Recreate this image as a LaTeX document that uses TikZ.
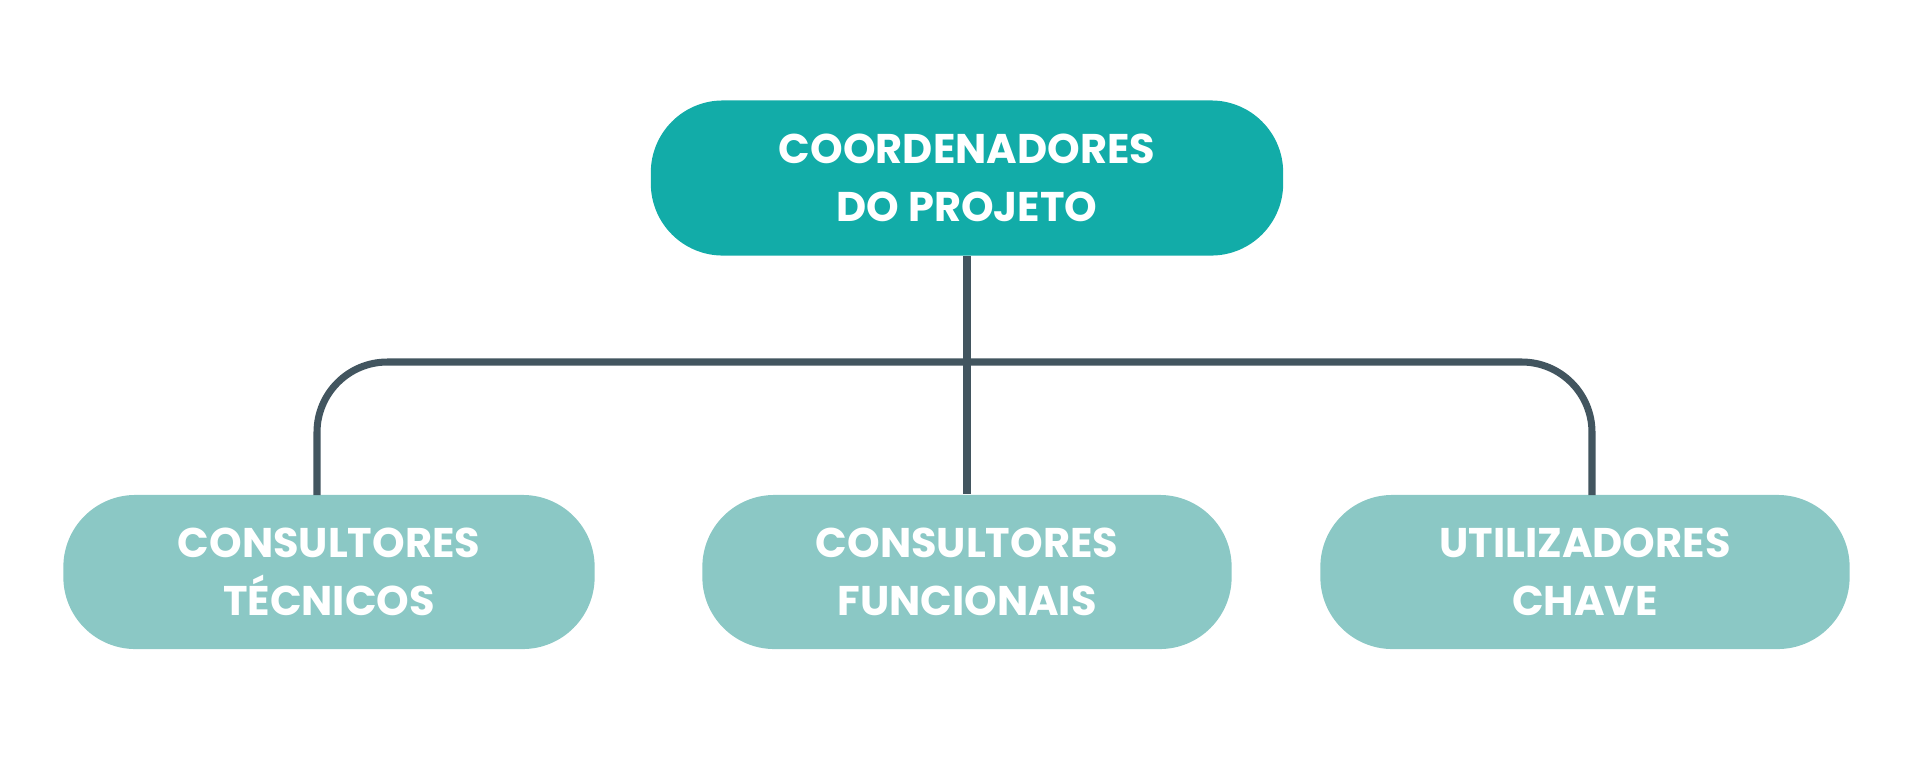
\documentclass[tikz,border=0pt]{standalone}
\usepackage{fontspec}
\setmainfont{Poppins}[BoldFont={* Bold}]
\usetikzlibrary{positioning}
\definecolor{topteal}{HTML}{12ACA8}
\definecolor{lightteal}{HTML}{8BC8C5}
\definecolor{linegray}{HTML}{42555F}
\tikzstyle{box} = [
  rectangle,
  rounded corners=0.72cm,
  text=white,
  font=\fontsize{11.8}{16.5}\selectfont\bfseries,
  align=center,
  inner sep=0pt,
]
\tikzstyle{link} = [line width=2pt, linegray, rounded corners=20pt]

\begin{document}
\begin{tikzpicture}[x=0.01cm,y=-0.01cm]
      \useasboundingbox (0,0) rectangle (1920,778);

      \node[box,fill=topteal,minimum width=6.32cm,minimum height=1.55cm] (coord) at (967,178) {COORDENADORES\\DO PROJETO};

      \node[box,fill=lightteal,minimum width=5.31cm,minimum height=1.54cm] (tec) at (329,572) {CONSULTORES\\TÉCNICOS};
      \node[box,fill=lightteal,minimum width=5.29cm,minimum height=1.54cm] (func) at (967,572) {CONSULTORES\\FUNCIONAIS};
      \node[box,fill=lightteal,minimum width=5.29cm,minimum height=1.54cm] (chave) at (1585,572) {UTILIZADORES\\CHAVE};

      \coordinate (tecup) at (317,495);
      \coordinate (chaveup) at (1592,495);

      \draw[link] (tecup) |- (967,362) -| (chaveup);
      \draw[link] (coord.south) -- (func.north);

    \end{tikzpicture}
\end{document}
